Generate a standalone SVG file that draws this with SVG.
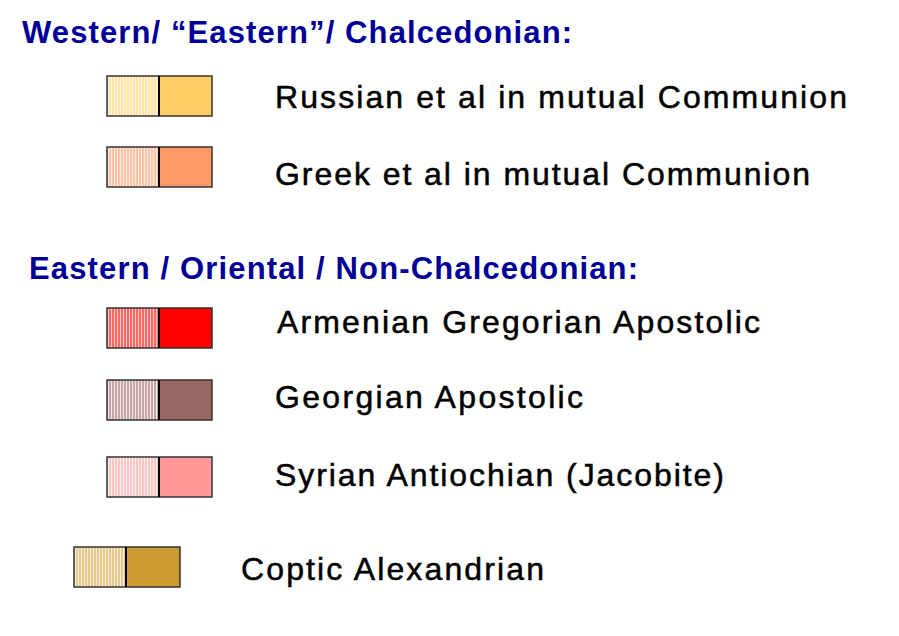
<svg xmlns="http://www.w3.org/2000/svg" width="899" height="636" viewBox="0 0 899 636">
<style>
.h{font-family:"Liberation Sans",Arial,sans-serif;font-weight:bold;font-size:31px;fill:#000099}
.t{font-family:"Liberation Sans",Arial,sans-serif;font-size:32px;fill:#000;stroke:#000;stroke-width:0.5}
.b{stroke:#333;stroke-width:1.5;fill:none}
.d{stroke:#000;stroke-width:2}
</style>
<defs>
<pattern id="p1" width="3" height="10" patternUnits="userSpaceOnUse"><rect width="3" height="10" fill="#FFE3A8"/><rect width="1" height="10" fill="#FFF6E0"/></pattern>
<pattern id="p2" width="3" height="10" patternUnits="userSpaceOnUse"><rect width="3" height="10" fill="#FFC4A6"/><rect width="1" height="10" fill="#FFEDE2"/></pattern>
<pattern id="p3" width="3" height="10" patternUnits="userSpaceOnUse"><rect width="3" height="10" fill="#FF6666"/><rect width="1" height="10" fill="#FFCCCC"/></pattern>
<pattern id="p4" width="3" height="10" patternUnits="userSpaceOnUse"><rect width="3" height="10" fill="#C9A6A6"/><rect width="1" height="10" fill="#F2E8E8"/></pattern>
<pattern id="p5" width="3" height="10" patternUnits="userSpaceOnUse"><rect width="3" height="10" fill="#FFC4C4"/><rect width="1" height="10" fill="#FFF0F0"/></pattern>
<pattern id="p6" width="3" height="10" patternUnits="userSpaceOnUse"><rect width="3" height="10" fill="#E6C88C"/><rect width="1" height="10" fill="#F8EED8"/></pattern>
</defs>
<text class="h" x="22" y="43" textLength="550">Western/ “Eastern”/ Chalcedonian:</text>
<text class="h" x="29" y="279" textLength="609">Eastern / Oriental / Non-Chalcedonian:</text>
<g id="russian">
<rect x="107" y="76" width="52" height="40" fill="url(#p1)"/><rect x="159" y="76" width="53" height="40" fill="#FFCC66"/>
<rect class="b" x="107" y="76" width="105" height="40"/><line class="d" x1="159" y1="76" x2="159" y2="116"/>
<text class="t" x="275" y="108" textLength="572">Russian et al in mutual Communion</text>
</g>
<g id="greek">
<rect x="107" y="147" width="52" height="40" fill="url(#p2)"/><rect x="159" y="147" width="53" height="40" fill="#FF9966"/>
<rect class="b" x="107" y="147" width="105" height="40"/><line class="d" x1="159" y1="147" x2="159" y2="187"/>
<text class="t" x="275" y="185" textLength="535">Greek et al in mutual Communion</text>
</g>
<g id="armenian">
<rect x="107" y="308" width="52" height="40" fill="url(#p3)"/><rect x="159" y="308" width="53" height="40" fill="#FF0000"/>
<rect class="b" x="107" y="308" width="105" height="40"/><line class="d" x1="159" y1="308" x2="159" y2="348"/>
<text class="t" x="277" y="333" textLength="483">Armenian Gregorian Apostolic</text>
</g>
<g id="georgian">
<rect x="107" y="380" width="52" height="40" fill="url(#p4)"/><rect x="159" y="380" width="53" height="40" fill="#996666"/>
<rect class="b" x="107" y="380" width="105" height="40"/><line class="d" x1="159" y1="380" x2="159" y2="420"/>
<text class="t" x="275" y="408" textLength="308">Georgian Apostolic</text>
</g>
<g id="syrian">
<rect x="107" y="457" width="52" height="40" fill="url(#p5)"/><rect x="159" y="457" width="53" height="40" fill="#FF9999"/>
<rect class="b" x="107" y="457" width="105" height="40"/><line class="d" x1="159" y1="457" x2="159" y2="497"/>
<text class="t" x="275" y="486" textLength="449">Syrian Antiochian (Jacobite)</text>
</g>
<g id="coptic">
<rect x="74" y="547" width="52" height="40" fill="url(#p6)"/><rect x="126" y="547" width="54" height="40" fill="#CC9933"/>
<rect class="b" x="74" y="547" width="106" height="40"/><line class="d" x1="126" y1="547" x2="126" y2="587"/>
<text class="t" x="241" y="580" textLength="303">Coptic Alexandrian</text>
</g>
</svg>
